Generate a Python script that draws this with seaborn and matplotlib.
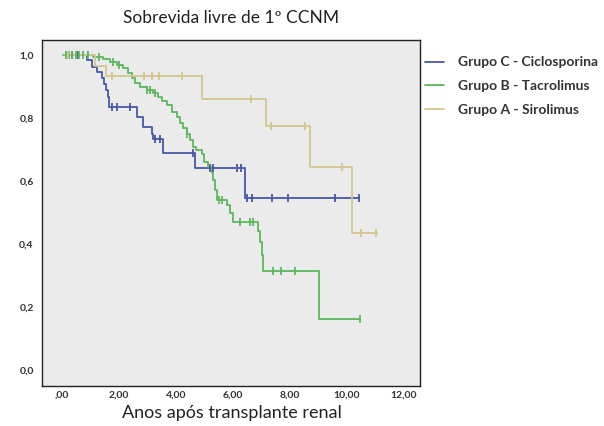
import numpy as np
import pandas as pd
import matplotlib
matplotlib.use("Agg")
import matplotlib.pyplot as plt
import seaborn as sns
from matplotlib.lines import Line2D

# ---- data ----
groups = ["Grupo C - Ciclosporina", "Grupo B - Tacrolimus", "Grupo A - Sirolimus"]
colors = ["#4657a6", "#5cb85c", "#d3c68e"]

c_times = [0.1, 0.87, 1.05, 1.22, 1.39, 1.47, 1.53, 1.6, 1.66, 2.62, 2.85, 3.15, 3.2,
           3.55, 4.67, 6.42, 10.42]
c_surv = [1.0, 0.983, 0.963, 0.947, 0.927, 0.908, 0.889, 0.868, 0.836, 0.805, 0.773,
          0.751, 0.735, 0.69, 0.64, 0.547, 0.547]
c_cens = [0.35, 0.55, 1.74, 1.92, 2.39, 3.26, 3.44, 4.6, 5.19, 5.3, 6.14, 6.27,
          6.49, 6.67, 7.37, 7.93, 9.58, 10.42]

b_times = [0.05, 1.1, 1.45, 1.68, 1.92, 2.15, 2.33, 2.44, 2.56, 2.74, 2.97, 3.2, 3.38,
           3.5, 3.67, 3.85, 4.02, 4.14, 4.26, 4.37, 4.49, 4.61, 4.7, 4.9, 5.0, 5.13,
           5.25, 5.3, 5.37, 5.43, 5.78, 5.9, 6.01, 6.89, 6.95, 7.0, 7.05, 9.02, 10.46]
b_surv = [1.0, 0.994, 0.988, 0.979, 0.968, 0.958, 0.942, 0.926, 0.912, 0.9, 0.889,
          0.879, 0.868, 0.855, 0.841, 0.82, 0.804, 0.783, 0.767, 0.751, 0.73, 0.709,
          0.698, 0.685, 0.661, 0.645, 0.624, 0.603, 0.571, 0.54, 0.525, 0.5, 0.471,
          0.44, 0.405, 0.365, 0.314, 0.161, 0.161]
b_cens = [0.15, 0.25, 0.35, 0.5, 0.6, 0.75, 0.9, 1.3, 1.8, 2.0, 3.0, 3.1, 3.25, 4.4,
          5.5, 5.62, 6.25, 6.6, 6.7, 7.4, 7.68, 8.18, 10.46]

a_times = [0.1, 1.15, 1.53, 4.9, 7.15, 8.7, 10.18, 11.04]
a_surv = [1.0, 0.967, 0.933, 0.86, 0.775, 0.645, 0.434, 0.434]
a_cens = [0.2, 1.77, 2.88, 3.16, 3.4, 4.21, 6.62, 7.32, 8.53, 9.81, 10.48, 11.02]

x_ticks = [0, 2, 4, 6, 8, 10, 12]
x_ticklabels = [",00", "2,00", "4,00", "6,00", "8,00", "10,00", "12,00"]
y_ticks = [0.0, 0.2, 0.4, 0.6, 0.8, 1.0]
y_ticklabels = ["0,0", "0,2", "0,4", "0,6", "0,8", "1,0"]

title = "Sobrevida livre de 1º CCNM"
xlabel = "Anos após transplante renal"

# ---- figure ----
sns.set_style("white")
plt.rcParams["font.family"] = ["Lato", "DejaVu Sans"]

fig = plt.figure(figsize=(6.04, 4.26), dpi=100)
ax = fig.add_axes([42 / 604, 1 - 386 / 426, (420 - 42) / 604, (386 - 40) / 426])
ax.set_facecolor("#ebebeb")

series = [(c_times, c_surv, c_cens), (b_times, b_surv, b_cens), (a_times, a_surv, a_cens)]
for name, col, (t, s, cens) in zip(groups, colors, series):
    df = pd.DataFrame({"t": t, "s": s})
    sns.lineplot(data=df, x="t", y="s", ax=ax, color=col, lw=1.3,
                 drawstyle="steps-post", estimator=None, sort=False)
    t_arr = np.asarray(t)
    s_arr = np.asarray(s)
    idx = np.searchsorted(t_arr, np.asarray(cens), side="right") - 1
    idx = np.clip(idx, 0, len(s_arr) - 1)
    cdf = pd.DataFrame({"t": cens, "s": s_arr[idx]})
    sns.scatterplot(data=cdf, x="t", y="s", ax=ax, color=col, marker="|",
                    s=30, linewidth=1.3, zorder=3)

ax.set_xlim(-0.70, 12.56)
ax.set_ylim(-0.051, 1.048)
ax.set_xticks(x_ticks)
ax.set_xticklabels(x_ticklabels, fontsize=7.5, fontweight="bold", color="#333333")
ax.set_yticks(y_ticks)
ax.set_yticklabels(y_ticklabels, fontsize=7.5, fontweight="bold", color="#333333")
ax.tick_params(axis="y", direction="out", length=4, width=1, color="#222222", pad=2)
ax.tick_params(axis="x", direction="out", length=3, width=1.2, color="#222222", pad=0)
for sp in ax.spines.values():
    sp.set_visible(True)
    sp.set_color("#222222")
    sp.set_linewidth(1.0)
ax.set_xlabel("")
ax.set_ylabel("")

fig.text(231 / 604, 1 - 18 / 426, title, ha="center", va="center", fontsize=12.5,
         color="#222222")
fig.text(232 / 604, 1 - 413 / 426, xlabel, ha="center", va="center", fontsize=13,
         color="#222222")

handles = [Line2D([0], [0], color=c, lw=1.3) for c in colors]
leg = fig.legend(handles, groups, loc="upper left", bbox_to_anchor=(412 / 604, 1 - 44 / 426),
                 frameon=False, handlelength=1.4, handletextpad=1.0, labelspacing=0.85,
                 prop={"family": ["Lato", "DejaVu Sans"], "weight": "bold", "size": 10})
for txt in leg.get_texts():
    txt.set_color("#333333")

fig.savefig("out.png", dpi=100, facecolor="white")
